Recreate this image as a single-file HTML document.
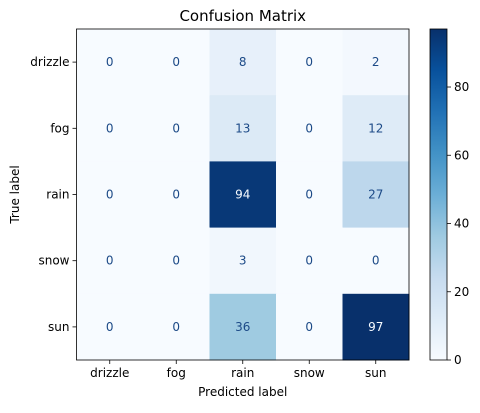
<!DOCTYPE html>
<html><head><meta charset="utf-8"><style>
body{margin:0;background:#fff;font-family:"Liberation Sans","DejaVu Sans",sans-serif}
svg text{font-family:"DejaVu Sans","Liberation Sans",sans-serif}
</style></head><body>
<svg id="chart" width="480" height="408" xmlns="http://www.w3.org/2000/svg"></svg>
<script>
const labels = ["drizzle","fog","rain","snow","sun"];
const row_drizzle = [0,0,8,0,2];
const row_fog = [0,0,13,0,12];
const row_rain = [0,0,94,0,27];
const row_snow = [0,0,3,0,0];
const row_sun = [0,0,36,0,97];
const cbTicks = [0,20,40,60,80];

const matrix=[row_drizzle,row_fog,row_rain,row_snow,row_sun];
const svg=document.getElementById('chart');
const NS='http://www.w3.org/2000/svg';
function mk(t,a,txt){const e=document.createElementNS(NS,t);for(const k in a)e.setAttribute(k,a[k]);if(txt!==undefined)e.textContent=txt;svg.appendChild(e);return e;}
const stops=["#f7fbff","#deebf7","#c6dbef","#9ecae1","#6baed6","#4292c6","#2171b5","#08519c","#08306b"].map(h=>[1,3,5].map(i=>parseInt(h.substr(i,2),16)));
function blues(t){t=Math.max(0,Math.min(1,t));const p=t*8,i=Math.min(7,Math.floor(p)),f=p-i;const c=stops[i].map((v,k)=>Math.round(v+(stops[i+1][k]-v)*f));return `rgb(${c.join(',')})`;}
const L=76.5,T=29,W=332.5,H=331,n=labels.length;
const vmax=Math.max(...matrix.flat()),vmin=0;
const cw=W/n,ch=H/n;
const xc=j=>L+cw*(j+0.5), yc=i=>T+ch*(i+0.5);
mk('text',{x:L+W/2,y:21,'text-anchor':'middle','font-size':15,fill:'#000'},'Confusion Matrix');
matrix.forEach((row,i)=>row.forEach((v,j)=>{
  const r=mk('rect',{x:L+cw*j,y:T+ch*i,width:cw+0.5,height:ch+0.5,fill:blues((v-vmin)/(vmax-vmin))});
  
  
  const t=mk('text',{x:xc(j),y:yc(i)+4,'text-anchor':'middle','font-size':12,fill:v>vmax/2?'#f7fbff':'#1c4a87'},String(v));
  
  
}));
mk('rect',{x:L,y:T,width:W,height:H,fill:'none',stroke:'#000','stroke-width':0.8});
labels.forEach((lb,k)=>{
  mk('line',{x1:L,x2:L-4,y1:yc(k),y2:yc(k),stroke:'#000','stroke-width':0.8});
  const a=mk('text',{x:L-7,y:yc(k)+4,'text-anchor':'end','font-size':12,fill:'#000'},lb);
  
  
  mk('line',{x1:xc(k),x2:xc(k),y1:T+H,y2:T+H+4,stroke:'#000','stroke-width':0.8});
  const b=mk('text',{x:xc(k),y:T+H+17,'text-anchor':'middle','font-size':12,fill:'#000'},lb);
  
  
});
const xt=mk('text',{x:L+W/2,y:396,'text-anchor':'middle','font-size':12,fill:'#000'},'Predicted label');

const yt=mk('text',{x:0,y:0,'text-anchor':'middle','font-size':12,fill:'#000',transform:`translate(19,${T+H/2}) rotate(-90)`},'True label');

const cx=430,cwid=17;
const defs=mk('defs',{});
const g=document.createElementNS(NS,'linearGradient');g.setAttribute('id','cbg');g.setAttribute('x1','0');g.setAttribute('y1','1');g.setAttribute('x2','0');g.setAttribute('y2','0');defs.appendChild(g);
for(let k=0;k<=8;k++){const s=document.createElementNS(NS,'stop');s.setAttribute('offset',k/8);s.setAttribute('stop-color',blues(k/8));g.appendChild(s);}
const cb=mk('rect',{x:cx,y:T,width:cwid,height:H,fill:'url(#cbg)',stroke:'#000','stroke-width':0.8});

const cy=v=>T+H-(v-vmin)/(vmax-vmin)*H;
cbTicks.forEach(v=>{
  mk('line',{x1:cx+cwid,x2:cx+cwid+4,y1:cy(v),y2:cy(v),stroke:'#000','stroke-width':0.8});
  const t=mk('text',{x:cx+cwid+7,y:cy(v)+4,'font-size':12,fill:'#000'},String(v));
  
  
});
</script>
</body></html>
